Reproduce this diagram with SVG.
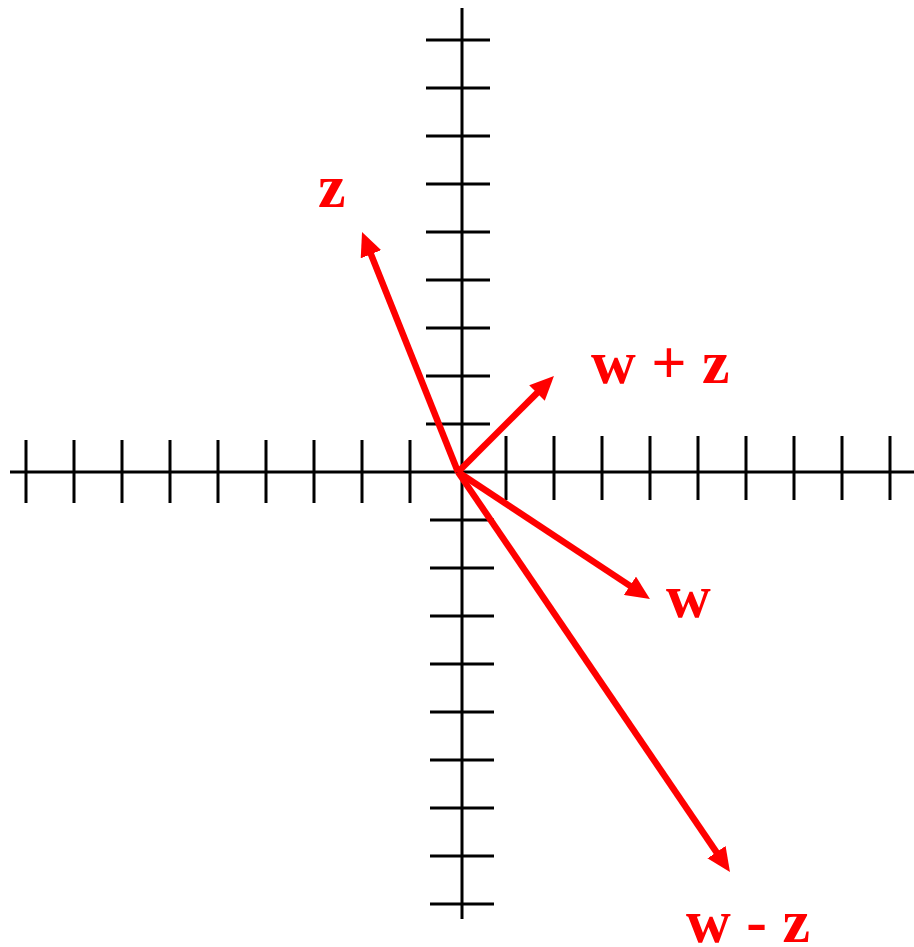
<svg xmlns="http://www.w3.org/2000/svg" width="914" height="947" viewBox="0 0 914 947">
<style>
.ax{stroke:#000;stroke-width:3;fill:none}
.vec{stroke:#FF0000;stroke-width:6.5;fill:none;marker-end:url(#ah)}
.lbl{font-family:"Liberation Serif","Times New Roman",serif;font-weight:bold;font-size:62px;fill:#FF0000}
</style>
<defs>
<marker id="ah" viewBox="0 0 24 22" refX="2" refY="11" markerWidth="24" markerHeight="22" markerUnits="userSpaceOnUse" orient="auto">
<path d="M0,0 L24,11 L0,22 Z" fill="#FF0000"/>
</marker>
</defs>
<g id="axes">
<path class="ax" d="M10,472 H914 M462,8 V919"/>
<path class="ax" d="M26,440 V503 M74,440 V503 M122,440 V503 M170,440 V503 M218,440 V503 M266,440 V503 M314,440 V503 M362,440 V503 M410,440 V503"/>
<path class="ax" d="M506,436 V500 M554,436 V500 M602,436 V500 M650,436 V500 M698,436 V500 M746,436 V500 M794,436 V500 M842,436 V500 M890,436 V500"/>
<path class="ax" d="M426,40 H490 M426,88 H490 M426,136 H490 M426,184 H490 M426,232 H490 M426,280 H490 M426,328 H490 M426,376 H490 M426,424 H490"/>
<path class="ax" d="M430,520 H494 M430,568 H494 M430,616 H494 M430,664 H494 M430,712 H494 M430,760 H494 M430,808 H494 M430,856 H494 M430,904 H494"/>
</g>
<g id="connectors">
<line class="vec" x1="458" y1="472" x2="370.2" y2="252.4"/>
<line class="vec" x1="458" y1="472" x2="538.4" y2="391.6"/>
<line class="vec" x1="458" y1="472" x2="631.6" y2="586.9"/>
<line class="vec" x1="458" y1="472" x2="717.6" y2="853.8"/>
</g>
<g id="label-z"><text class="lbl" x="318" y="207">z</text></g>
<g id="label-wpz"><text class="lbl" x="591" y="383">w + z</text></g>
<g id="label-w"><text class="lbl" x="666" y="617">w</text></g>
<g id="label-wmz"><text class="lbl" x="686" y="942">w - z</text></g>
</svg>
